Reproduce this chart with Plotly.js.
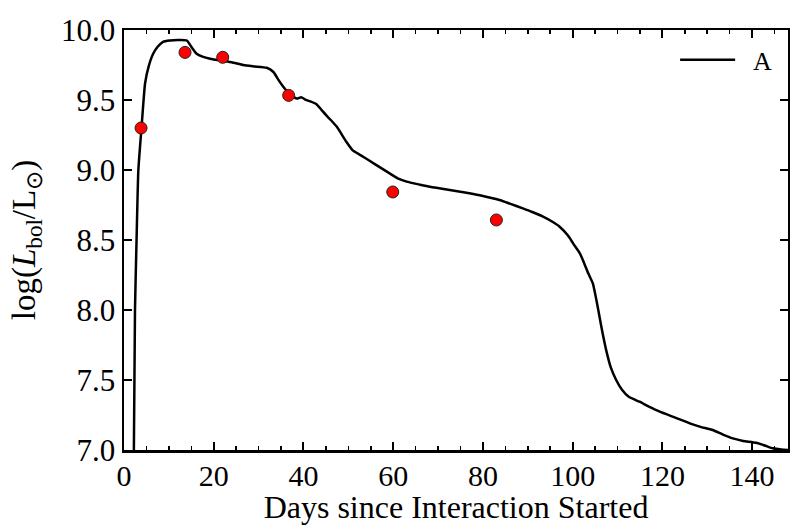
<!DOCTYPE html>
<html>
<head>
<meta charset="utf-8">
<script src="https://cdn.plot.ly/plotly-3.0.1.min.js"></script>
<style>html,body{margin:0;padding:0;background:#fff;}#chart{width:790px;height:525px;}</style>
</head>
<body>
<div id="chart"></div>
<script>
// Model light curve "A"
const modelDays = [2.2, 2.45, 2.8, 3.2, 3.9, 4.7, 5.5, 6.5, 7.5, 8.7, 10.2, 12, 14, 15, 16.2, 17.5, 19.2, 22, 24, 26.6, 29, 31.8, 33.3, 34.5, 35.5, 36.7, 38.5, 39.5, 40.3, 41.5, 42.9, 44, 45.1, 46, 47.4, 49.6, 51, 53.3, 56, 58.5, 61, 63, 66, 68.2, 72.6, 76, 79.3, 83.7, 86, 88.9, 91, 93.4, 95.5, 97.1, 99, 100.1, 101.6, 102.5, 103.5, 104.5, 105.3, 106, 106.7, 107.5, 108.5, 109.7, 111, 112.5, 114.9, 117, 119.4, 123, 126.1, 128.5, 131.2, 133.5, 135.7, 138, 140.9, 143, 144.6, 146.5, 148];
const modelLogL = [7.0, 8.0, 8.5, 9.0, 9.30, 9.62, 9.74, 9.83, 9.88, 9.915, 9.925, 9.928, 9.925, 9.88, 9.83, 9.81, 9.795, 9.78, 9.77, 9.75, 9.74, 9.73, 9.70, 9.64, 9.595, 9.55, 9.51, 9.52, 9.505, 9.49, 9.47, 9.43, 9.39, 9.36, 9.31, 9.2, 9.14, 9.095, 9.04, 8.99, 8.94, 8.917, 8.895, 8.88, 8.857, 8.84, 8.82, 8.786, 8.76, 8.726, 8.70, 8.667, 8.63, 8.595, 8.53, 8.476, 8.405, 8.34, 8.26, 8.19, 8.07, 7.95, 7.83, 7.71, 7.59, 7.5, 7.43, 7.38, 7.345, 7.31, 7.274, 7.23, 7.19, 7.165, 7.143, 7.11, 7.083, 7.065, 7.052, 7.03, 7.012, 7.003, 7.0];

// Observed points
const obsDays = [3.8, 13.6, 22.0, 36.7, 59.9, 83.0];
const obsLogL = [9.30, 9.84, 9.805, 9.533, 8.843, 8.643];

const modelName = "\u00a0\u00a0A";
const xTitle = "Days since Interaction Started";
const yTitle = "log(<i>L</i><sub>bol</sub>/L<sub>⊙</sub>)";

const font = "Liberation Serif, Times New Roman, serif";

const traces = [
  {x: modelDays, y: modelLogL, type: "scatter", mode: "lines", name: modelName,
   line: {color: "#000", width: 2.5, shape: "spline", smoothing: 0.5}, showlegend: true},
  {x: obsDays, y: obsLogL, type: "scatter", mode: "markers", showlegend: false,
   marker: {color: "#ff0000", size: 12, line: {color: "#222", width: 1}}}
];

const axisCommon = {
  showgrid: false, zeroline: false, showline: true, linecolor: "#000", linewidth: 2.5,
  mirror: "ticks", ticks: "inside", tickcolor: "#000", tickwidth: 2, ticklen: 8,
  tickfont: {family: font, size: 31, color: "#000"}
};

const layout = {
  width: 790, height: 525,
  margin: {l: 124, r: 2, t: 30, b: 75},
  paper_bgcolor: "#fff", plot_bgcolor: "#fff",
  font: {family: font, color: "#000"},
  xaxis: Object.assign({}, axisCommon, {
    range: [0, 148], dtick: 20, tick0: 0,
    tickfont: {family: font, size: 30, color: "#000"}, ticklabelstandoff: -3,
    minor: {dtick: 5, ticks: "inside", ticklen: 4, tickwidth: 1.5, tickcolor: "#000"},
    title: {text: xTitle, font: {family: font, size: 32, color: "#000"}, standoff: 6}
  }),
  yaxis: Object.assign({}, axisCommon, {
    range: [7.0, 10.0], dtick: 0.5, tick0: 7, tickformat: ".1f",
    title: {text: yTitle, font: {family: font, size: 33, color: "#000"}, standoff: 16}
  }),
  legend: {x: 0.83, y: 0.985, xanchor: "left", yanchor: "top", bgcolor: "rgba(0,0,0,0)",
    itemwidth: 55, font: {family: font, size: 26, color: "#000"}}
};

Plotly.newPlot("chart", traces, layout, {staticPlot: true});
</script>
</body>
</html>
